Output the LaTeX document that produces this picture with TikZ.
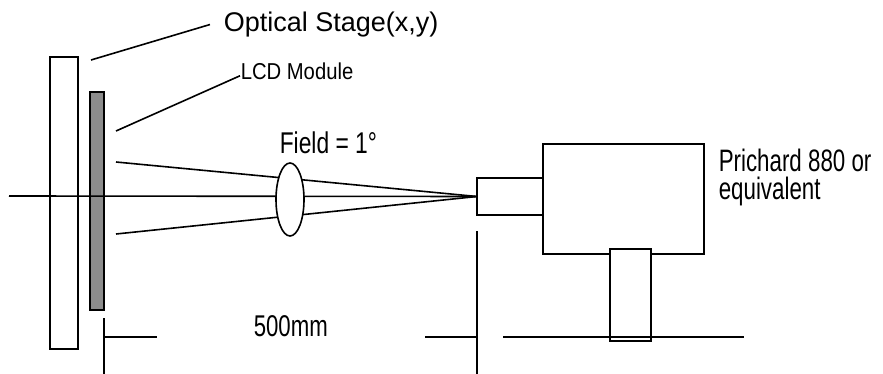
\documentclass[tikz,border=0pt]{standalone}
\usepackage{fontspec}
\usepackage{tikz}
\usetikzlibrary{calc,shapes}
\setmainfont{Liberation Sans}
\newfontfamily\cadfont{Liberation Sans}
\newcommand\cadsize[2]{\cadfont\fontsize{#1}{#1}\selectfont\addfontfeature{FakeStretch=#2}}

\begin{document}
\begin{tikzpicture}[x=1pt, y=-1pt, line width=1.6pt,
 box node/.style={draw, rectangle, inner sep=0pt},
 white box/.style={box node, fill=white},
 label node/.style={inner sep=0pt, anchor=base west}]
\useasboundingbox (0,0) rectangle (883,374);
% optical axis and rays
\coordinate (axis start) at (9,196);
\coordinate (apex) at (477,196.5);
\coordinate (ray top) at (116,162);
\coordinate (ray bottom) at (116,234);
\draw (ray top) -- (apex);
\draw (ray bottom) -- (apex);
\node[box node, minimum width=28, minimum height=292] (stage) at (64,203) {};
\node[box node, fill=black!45, minimum width=14, minimum height=218] (lcd) at (97,201) {};
\draw (axis start) -- (apex);
\node[draw, ellipse, fill=white, inner sep=0pt, minimum width=28, minimum height=73] (lens) at (290,199.5) {};
% meter
\node[box node, minimum width=66, minimum height=37] (nose) at (510,196.5) {};
\node[box node, minimum width=161, minimum height=110] (meter) at (623.5,199) {};
\node[white box, minimum width=41, minimum height=92] (foot) at (630.5,295) {};
% labels
\node[label node, font=\fontsize{27}{29}\selectfont] (stage label) at (223,31.5) {Optical Stage(x,y)};
\node[label node, font=\cadsize{23}{0.88}] (lcd label) at (240,80) {LCD Module};
\node[label node, font=\cadsize{30}{0.76}] (field) at (279,153.3) {Field = 1°};
\node[label node, font=\cadsize{30}{0.74}] (dist) at (253,336.7) {500mm};
\node[label node, font=\cadsize{31}{0.72}] (prichard) at (718,171.7) {Prichard 880 or};
\node[label node, font=\cadsize{31}{0.72}] (equiv) at ($(prichard.base west)+(0,28)$) {equivalent};
\coordinate (stage tip) at (91,60);
\coordinate (lcd tip) at (116,131);
\draw (stage tip) -- ([xshift=-13pt]stage label.west);
\draw (lcd tip) -- ([yshift=-4pt]lcd label.west);
% dimension
\coordinate (dim left) at (104,337);
\coordinate (dim right) at (477,337);
\draw (104,318) -- (104,374);
\draw (dim left) -- ++(53,0);
\draw (dim right) -- ++(-52,0);
\draw (477,231) -- (477,374);
\draw (503,337) -- (744,337);
\end{tikzpicture}
\end{document}
